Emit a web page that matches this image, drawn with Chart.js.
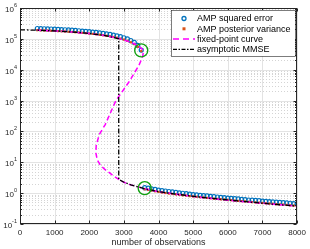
<!DOCTYPE html>
<html>
<head>
<meta charset="utf-8">
<script src="https://cdn.jsdelivr.net/npm/chart.js@4/dist/chart.umd.min.js"></script>
<style>
  html, body { margin: 0; padding: 0; background: #fff; }
</style>
</head>
<body>
<canvas id="chart" width="310" height="249"></canvas>
<script>
// AMP runs, upper (failed) branch
const obsUpper = [500, 600, 700, 800, 900, 1000, 1100, 1200, 1300, 1400, 1500, 1600, 1700, 1800, 1900, 2000,
    2100, 2200, 2300, 2400, 2500, 2600, 2700, 2800, 2900, 3000, 3100, 3200, 3300, 3400, 3500];
const errUpper = [2.15e5, 2.13e5, 2.11e5, 2.09e5, 2.07e5, 2.05e5, 2.02e5, 1.99e5, 1.96e5, 1.93e5, 1.9e5, 1.86e5,
    1.82e5, 1.78e5, 1.74e5, 1.7e5, 1.65e5, 1.6e5, 1.55e5, 1.5e5, 1.44e5, 1.38e5, 1.32e5, 1.25e5, 1.17e5, 1.08e5,
    9.9e4, 8.8e4, 7.6e4, 6.1e4, 4.3e4];
const varUpper = [1.9e5, 1.88e5, 1.86e5, 1.84e5, 1.82e5, 1.8e5, 1.77e5, 1.75e5, 1.72e5, 1.69e5, 1.66e5, 1.63e5,
    1.6e5, 1.56e5, 1.52e5, 1.48e5, 1.44e5, 1.4e5, 1.35e5, 1.3e5, 1.25e5, 1.2e5, 1.14e5, 1.08e5, 1.01e5, 9.4e4,
    8.6e4, 7.7e4, 6.7e4, 5.5e4, 4.0e4];

// AMP runs, lower (successful) branch
const obsLower = [3600, 3700, 3800, 3900, 4000, 4100, 4200, 4300, 4400, 4500, 4600, 4700, 4800, 4900, 5000,
    5100, 5200, 5300, 5400, 5500, 5600, 5700, 5800, 5900, 6000, 6100, 6200, 6300, 6400, 6500, 6600, 6700, 6800,
    6900, 7000, 7100, 7200, 7300, 7400, 7500, 7600, 7700, 7800, 7900, 8000];
const errLower = [1.5, 1.45, 1.38, 1.32, 1.26, 1.21, 1.17, 1.13, 1.09, 1.05, 1.02, 0.99, 0.96, 0.93, 0.9,
    0.88, 0.85, 0.83, 0.81, 0.79, 0.77, 0.75, 0.73, 0.71, 0.69, 0.68, 0.66, 0.65, 0.63, 0.62, 0.6, 0.59, 0.58,
    0.57, 0.55, 0.54, 0.53, 0.52, 0.51, 0.5, 0.49, 0.48, 0.47, 0.46, 0.45];
const varLower = [1.33, 1.27, 1.21, 1.15, 1.1, 1.05, 1.01, 0.97, 0.94, 0.91, 0.88, 0.85, 0.83, 0.8, 0.78,
    0.76, 0.74, 0.72, 0.7, 0.68, 0.66, 0.65, 0.63, 0.62, 0.6, 0.59, 0.57, 0.56, 0.55, 0.54, 0.52, 0.51, 0.5,
    0.49, 0.48, 0.47, 0.46, 0.45, 0.44, 0.43, 0.425, 0.415, 0.405, 0.395, 0.385];

// fixed-point curve (S shape)
const fixedObs = [500, 1000, 1500, 2000, 2500, 2850, 3100, 3300, 3450, 3530, 3560, 3540, 3430, 3140, 2770,
    2460, 2290, 2200, 2190, 2230, 2320, 2440, 2570, 2700, 2850, 3000, 3200, 3600, 4000, 5000, 6000, 7000, 8000];
const fixedVal = [1.9e5, 1.8e5, 1.66e5, 1.48e5, 1.25e5, 1.02e5, 8.4e4, 6.9e4, 5.5e4, 4.6e4, 3.6e4, 2.6e4,
    1.35e4, 3.9e3, 1e3, 166, 80, 35, 20, 12, 8, 6, 4.7, 3.6, 2.8, 2.25, 1.85, 1.4, 1.1, 0.78, 0.59, 0.47, 0.38];

// asymptotic MMSE
const mmseObs = [0, 500, 1000, 1500, 2000, 2500, 2850, 2850, 3000, 3200, 3400, 3600, 4000, 4500, 5000, 5500,
    6000, 6500, 7000, 7500, 8000];
const mmseVal = [1.95e5, 1.9e5, 1.8e5, 1.66e5, 1.48e5, 1.25e5, 1.0e5, 2.8, 2.25, 1.85, 1.6, 1.4, 1.12, 0.93,
    0.79, 0.68, 0.6, 0.53, 0.47, 0.42, 0.38];

// highlighted transition points
const markObs = [3500, 3600];
const markVal = [4.2e4, 1.45];

const xTicks = [0, 1000, 2000, 3000, 4000, 5000, 6000, 7000, 8000];
const yExps = [-1, 0, 1, 2, 3, 4, 5, 6];

const FONT = "'Liberation Sans', Arial, sans-serif";
const AXIS_COLOR = '#262626';

const pts = (xs, ys) => xs.map((x, i) => ({ x: x, y: ys[i] }));

// grid, box and y labels, matlab style
const axesPlugin = {
    id: 'axesPlugin',
    beforeDatasetsDraw(chart) {
        const { ctx, chartArea: a, scales: { x, y } } = chart;
        ctx.save();
        ctx.lineWidth = 1;
        // minor y grid (dotted)
        ctx.strokeStyle = '#d4d4d4';
        ctx.setLineDash([1, 2]);
        for (let n = -1; n < 6; n++) {
            for (let k = 2; k <= 9; k++) {
                const py = Math.round(y.getPixelForValue(k * Math.pow(10, n))) + 0.5;
                ctx.beginPath(); ctx.moveTo(a.left, py); ctx.lineTo(a.right, py); ctx.stroke();
            }
        }
        // major grid
        ctx.setLineDash([]);
        ctx.strokeStyle = '#e3e3e3';
        yExps.forEach(n => {
            const py = Math.round(y.getPixelForValue(Math.pow(10, n))) + 0.5;
            ctx.beginPath(); ctx.moveTo(a.left, py); ctx.lineTo(a.right, py); ctx.stroke();
        });
        xTicks.forEach(v => {
            const px = Math.round(x.getPixelForValue(v)) + 0.5;
            ctx.beginPath(); ctx.moveTo(px, a.top); ctx.lineTo(px, a.bottom); ctx.stroke();
        });
        ctx.restore();
    },
    afterDraw(chart) {
        const { ctx, chartArea: a, scales: { x, y } } = chart;
        ctx.save();
        ctx.strokeStyle = AXIS_COLOR;
        ctx.lineWidth = 1;
        const L = Math.round(a.left) + 0.5, R = Math.round(a.right) - 0.5;
        const T = Math.round(a.top) + 0.5, B = Math.round(a.bottom) - 0.5;
        ctx.strokeRect(L, T, R - L, B - T);
        // inward ticks
        ctx.beginPath();
        xTicks.forEach(v => {
            const px = Math.round(x.getPixelForValue(v)) + 0.5;
            ctx.moveTo(px, B); ctx.lineTo(px, B - 3);
            ctx.moveTo(px, T); ctx.lineTo(px, T + 3);
        });
        for (let n = -1; n <= 6; n++) {
            for (let k = 1; k <= 9; k++) {
                if (n === 6 && k > 1) break;
                const py = Math.round(y.getPixelForValue(k * Math.pow(10, n))) + 0.5;
                const len = k === 1 ? 3 : 1.5;
                ctx.moveTo(L, py); ctx.lineTo(L + len, py);
                ctx.moveTo(R, py); ctx.lineTo(R - len, py);
            }
        }
        ctx.stroke();

        // y tick labels 10^n
        ctx.fillStyle = AXIS_COLOR;
        ctx.textBaseline = 'alphabetic';
        yExps.forEach(n => {
            const py = y.getPixelForValue(Math.pow(10, n));
            const exp = String(n);
            ctx.font = '5.5px ' + FONT;
            const ew = ctx.measureText(exp).width;
            ctx.textAlign = 'left';
            const ex = a.left - 3 - ew;
            ctx.fillText(exp, ex, py - 1);
            ctx.font = '8px ' + FONT;
            ctx.textAlign = 'right';
            ctx.fillText('10', ex, py + 4);
        });
        ctx.restore();
    }
};

// legend box in the top right corner
const legendPlugin = {
    id: 'legendBox',
    afterDraw(chart) {
        const ctx = chart.ctx;
        const bx = 171, by = 10, bw = 124, bh = 46;
        ctx.save();
        ctx.fillStyle = '#fff';
        ctx.fillRect(bx, by, bw, bh);
        ctx.strokeStyle = AXIS_COLOR;
        ctx.lineWidth = 0.6;
        ctx.strokeRect(bx + 0.5, by + 0.5, bw, bh);
        const items = chart.data.datasets.filter(d => d.legendKind);
        items.forEach((d, i) => {
            const cy = by + 8.5 + i * 10.3;
            if (d.legendKind === 'circle') {
                ctx.strokeStyle = d.borderColor;
                ctx.lineWidth = 1.3;
                ctx.beginPath(); ctx.arc(184, cy, 2, 0, Math.PI * 2); ctx.stroke();
            } else if (d.legendKind === 'rect') {
                ctx.fillStyle = d.backgroundColor;
                ctx.fillRect(182.5, cy - 1.5, 3, 3);
            } else {
                ctx.strokeStyle = d.borderColor;
                ctx.lineWidth = d.borderWidth;
                ctx.setLineDash(d.legendDash);
                ctx.beginPath(); ctx.moveTo(173, cy); ctx.lineTo(195, cy); ctx.stroke();
                ctx.setLineDash([]);
            }
            ctx.fillStyle = '#000';
            ctx.font = '9px ' + FONT;
            ctx.textAlign = 'left';
            ctx.textBaseline = 'middle';
            ctx.fillText(d.label, 197, cy + 0.5);
        });
        ctx.restore();
    }
};

new Chart(document.getElementById('chart'), {
    type: 'scatter',
    data: {
        datasets: [
            {
                label: 'AMP squared error', legendKind: 'circle',
                data: pts(obsUpper.concat(obsLower), errUpper.concat(errLower)),
                pointStyle: 'circle', pointRadius: 2, borderWidth: 1.2,
                borderColor: '#0072BD', backgroundColor: 'rgba(0,0,0,0)', order: 5
            },
            {
                label: 'AMP posterior variance', legendKind: 'rect',
                data: pts(obsUpper.concat(obsLower), varUpper.concat(varLower)),
                pointStyle: 'rect', pointRadius: 1.6, borderWidth: 0,
                borderColor: '#D95319', backgroundColor: '#D95319', order: 4
            },
            {
                label: 'fixed-point curve', legendKind: 'line', legendDash: [6, 4],
                data: pts(fixedObs, fixedVal), showLine: true, pointRadius: 0,
                borderColor: '#FF00FF', borderWidth: 1.5, borderDash: [5, 3], order: 3
            },
            {
                label: 'asymptotic MMSE', legendKind: 'line', legendDash: [4, 1.5, 1.5, 1.5],
                data: pts(mmseObs, mmseVal), showLine: true, pointRadius: 0,
                borderColor: '#000000', borderWidth: 1.3, borderDash: [5, 2, 1.5, 2], order: 2
            },
            {
                label: 'transition', data: pts(markObs, markVal),
                pointStyle: 'circle', pointRadius: 6.5, borderWidth: 1.4,
                borderColor: '#10A010', backgroundColor: 'rgba(0,0,0,0)', order: 1
            }
        ]
    },
    options: {
        responsive: false,
        animation: false,
        devicePixelRatio: 1,
        layout: { padding: { top: 4, right: 10, left: 0, bottom: 0 } },
        plugins: { legend: { display: false }, tooltip: { enabled: false } },
        scales: {
            x: {
                type: 'linear', min: 0, max: 8000,
                afterBuildTicks: (s) => { s.ticks = xTicks.map(v => ({ value: v })); },
                afterFit: (s) => { s.height = 25; },
                ticks: {
                    font: { size: 8, family: FONT }, color: AXIS_COLOR, padding: 4, maxRotation: 0,
                    callback: (v) => String(v)
                },
                grid: { display: false, drawTicks: false },
                border: { display: false },
                title: {
                    display: true, text: 'number of observations', color: AXIS_COLOR,
                    font: { size: 9, family: FONT }, padding: { top: 0, bottom: 1 }
                }
            },
            y: {
                type: 'logarithmic', min: 0.1, max: 1e6,
                afterFit: (s) => { s.width = 20; },
                ticks: { display: false },
                grid: { display: false, drawTicks: false },
                border: { display: false }
            }
        }
    },
    plugins: [axesPlugin, legendPlugin]
});
</script>
</body>
</html>
